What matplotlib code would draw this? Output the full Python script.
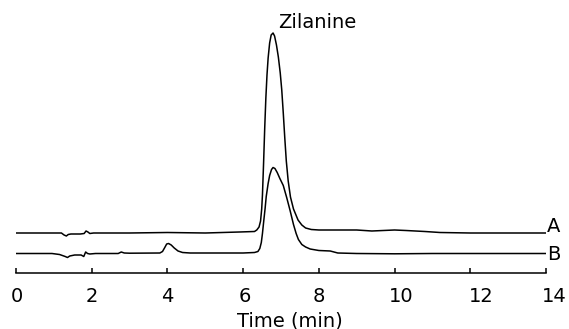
import matplotlib
matplotlib.use("Agg")
import matplotlib.pyplot as plt
from matplotlib.transforms import ScaledTranslation

# chromatogram traces, response in arbitrary units above each trace's own baseline
t_a = [0.0, 1.20, 1.27, 1.33, 1.38, 1.45, 1.70, 1.80, 1.85, 1.90, 1.95, 2.05, 3.00,
       4.00, 5.00, 5.90, 6.30, 6.36, 6.42, 6.46, 6.49, 6.51, 6.54, 6.57, 6.60, 6.63,
       6.66, 6.70, 6.74, 6.79, 6.83, 6.88, 6.93, 6.98, 7.02, 7.06, 7.10, 7.14, 7.19,
       7.25, 7.33, 7.45, 7.55, 7.65, 7.80, 8.00, 9.00, 9.40, 9.70, 10.00, 10.30,
       10.80, 11.20, 12.00, 13.00, 14.00]
sig_a = [0, 0, -2, -3, -1.5, -1, -1, -0.5, 2, 1, -0.5, 0, 0,
         0.5, 0, 1, 1.5, 3, 6, 12, 24, 38, 70, 105, 135, 158,
         175, 190, 198, 200, 197, 188, 176, 160, 143, 120, 95, 72, 52,
         36, 24, 13, 8, 5, 3.5, 3, 3, 2, 2.5, 3, 2.5,
         1.5, 0.5, 0, 0, 0]

t_b = [0.0, 0.95, 1.15, 1.30, 1.36, 1.42, 1.55, 1.72, 1.79, 1.84, 1.89, 1.95, 2.10,
       2.70, 2.78, 2.86, 3.00, 3.80, 3.87, 3.93, 3.98, 4.03, 4.10, 4.18, 4.28, 4.40,
       4.60, 5.00, 5.50, 6.00, 6.30, 6.39, 6.44, 6.48, 6.51, 6.54, 6.58, 6.61, 6.66,
       6.70, 6.75, 6.79, 6.84, 6.90, 6.97, 7.06, 7.15, 7.24, 7.33, 7.40, 7.46, 7.55,
       7.65, 7.77, 8.00, 8.30, 8.50, 9.00, 10.00, 11.00, 12.00, 13.00, 14.00]
sig_b = [0, 0, -1, -3, -4, -2.5, -1.5, -1.5, -3, 1.5, 0, -0.5, 0,
         0, 1.5, 0.5, 0.3, 0.5, 2, 6, 9.5, 10, 8.5, 5.5, 2.5, 1,
         0.5, 0.5, 0.5, 0.5, 1, 2, 5, 11, 20, 31, 45, 57, 70,
         78, 84, 86, 85, 81, 75, 68, 56, 43, 29, 20, 14, 9,
         6.5, 4.5, 3, 2.5, 0.5, 0, -0.3, 0, 0, 0, 0]

trace_names = ["A", "B"]
x_ticks = [0, 2, 4, 6, 8, 10, 12, 14]
peak_name = "Zilanine"
x_label = "Time (min)"

# vertical stacking of the two traces (layout only)
offset_a, offset_b = 40, 19.5
# the scanned tick labels drift right of their ticks, in pixels
label_shift = [1, 0, 0, 1.5, 0, 7, 11, 8]

fig = plt.figure(figsize=(5.69, 3.29), dpi=100)
ax = fig.add_axes([16 / 569, 56 / 329, 530 / 569, 268 / 329])

ax.plot(t_a, [v + offset_a for v in sig_a], color="black", lw=1.1)
ax.plot(t_b, [v + offset_b for v in sig_b], color="black", lw=1.1)

ax.set_xlim(0, 14)
ax.set_ylim(0, 268)
ax.set_xticks(x_ticks)
ax.set_xticklabels([str(v) for v in x_ticks])
ax.set_yticks([])
for side in ("left", "right", "top"):
    ax.spines[side].set_visible(False)
ax.spines["bottom"].set_linewidth(1.1)
ax.tick_params(axis="x", direction="in", length=3.5, width=1.1, pad=10, labelsize=14)
for lbl, dx in zip(ax.get_xticklabels(), label_shift):
    lbl.set_transform(lbl.get_transform() + ScaledTranslation(dx / 100, 0, fig.dpi_scale_trans))

# trace labels at the right end
ax.text(14.03, offset_a + 0.5, trace_names[0], fontsize=14, ha="left", va="baseline",
        clip_on=False)
ax.text(14.03, offset_b - 6.5, trace_names[1], fontsize=14, ha="left", va="baseline",
        clip_on=False)

# peak label
ax.text(6.93, 244.7, peak_name, fontsize=14, ha="left", va="baseline")

fig.text(237 / 569, 1 - 326.5 / 329, x_label, fontsize=14, ha="left", va="baseline")

fig.savefig("out.png", dpi=100)
